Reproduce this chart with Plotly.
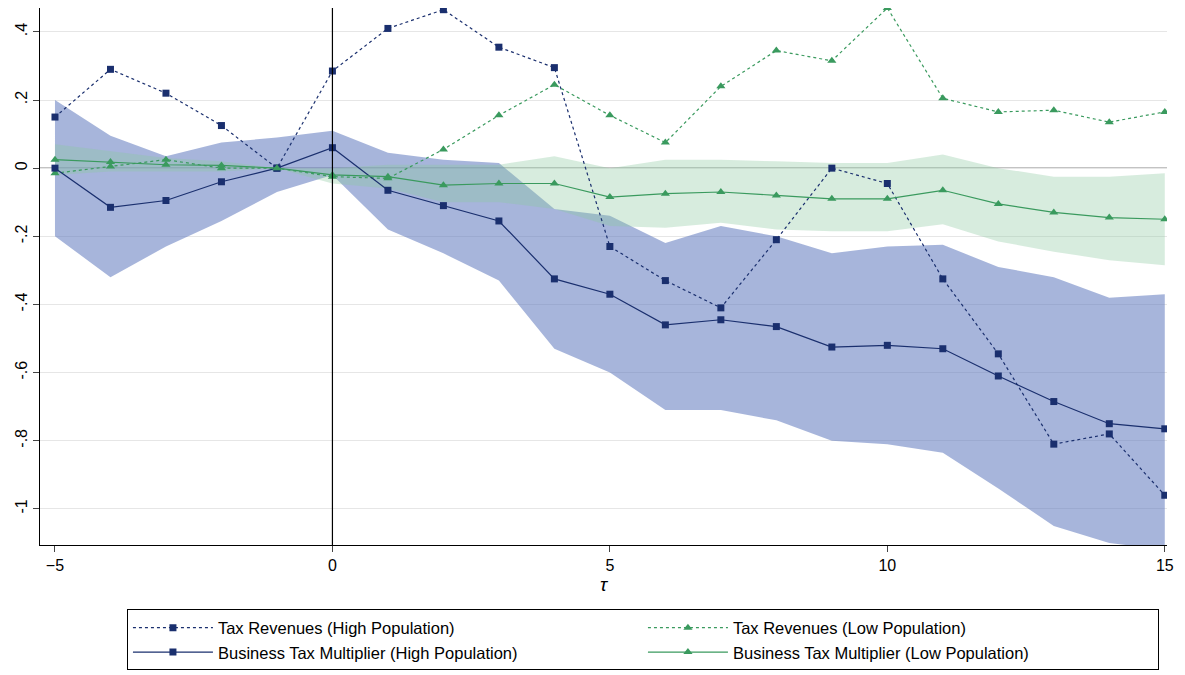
import plotly.graph_objects as go

tau = list(range(-5, 16))
tr_high = [0.15,0.29,0.22,0.125,0,0.285,0.41,0.465,0.355,0.295,-0.23,-0.33,-0.41,-0.21,0,-0.045,-0.325,-0.545,-0.81,-0.78,-0.96]
btm_high = [0,-0.115,-0.095,-0.04,0,0.06,-0.065,-0.11,-0.155,-0.325,-0.37,-0.46,-0.445,-0.465,-0.525,-0.52,-0.53,-0.61,-0.685,-0.75,-0.765]
high_up = [0.2,0.095,0.035,0.075,0.09,0.11,0.045,0.025,0.015,-0.12,-0.14,-0.22,-0.17,-0.2,-0.25,-0.23,-0.225,-0.29,-0.32,-0.38,-0.37]
high_lo = [-0.2,-0.32,-0.23,-0.155,-0.07,-0.02,-0.18,-0.25,-0.33,-0.53,-0.6,-0.71,-0.71,-0.74,-0.8,-0.81,-0.835,-0.94,-1.05,-1.1,-1.12]
tr_low = [-0.015,0.005,0.025,0.0,0,-0.025,-0.03,0.055,0.155,0.245,0.155,0.075,0.24,0.345,0.315,0.47,0.205,0.165,0.17,0.135,0.165]
btm_low = [0.025,0.018,0.01,0.008,0,-0.02,-0.025,-0.05,-0.045,-0.045,-0.085,-0.075,-0.07,-0.08,-0.09,-0.09,-0.065,-0.105,-0.13,-0.145,-0.15]
low_up = [0.07,0.05,0.03,0.02,0,0.0,0.01,0.01,0.01,0.035,0.0,0.025,0.025,0.02,0.015,0.015,0.04,0.0,-0.025,-0.025,-0.015]
low_lo = [-0.02,-0.01,-0.01,-0.01,0,-0.045,-0.06,-0.1,-0.1,-0.12,-0.17,-0.175,-0.16,-0.18,-0.185,-0.185,-0.165,-0.215,-0.245,-0.27,-0.285]

yticks = [0.4,0.2,0,-0.2,-0.4,-0.6,-0.8,-1]
ylabels = [".4",".2","0","-.2","-.4","-.6","-.8","-1"]

navy = "#1a2f6e"
green = "#3a9a5e"
fig = go.Figure()
fig.add_trace(go.Scatter(x=tau+tau[::-1], y=high_up+high_lo[::-1], fill="toself",
    fillcolor="rgba(95,120,190,0.55)", line=dict(width=0), showlegend=False, hoverinfo="skip"))
fig.add_trace(go.Scatter(x=tau+tau[::-1], y=low_up+low_lo[::-1], fill="toself",
    fillcolor="rgba(140,200,160,0.35)", line=dict(width=0), showlegend=False, hoverinfo="skip"))
fig.add_trace(go.Scatter(x=tau, y=tr_high, mode="lines+markers", name="Tax Revenues (High Population)",
    line=dict(color=navy, width=1.2, dash="dot"), marker=dict(symbol="square", size=7, color=navy)))
fig.add_trace(go.Scatter(x=tau, y=tr_low, mode="lines+markers", name="Tax Revenues (Low Population)",
    line=dict(color=green, width=1.2, dash="dot"), marker=dict(symbol="triangle-up", size=8, color=green)))
fig.add_trace(go.Scatter(x=tau, y=btm_high, mode="lines+markers", name="Business Tax Multiplier (High Population)",
    line=dict(color=navy, width=1.2), marker=dict(symbol="square", size=7, color=navy)))
fig.add_trace(go.Scatter(x=tau, y=btm_low, mode="lines+markers", name="Business Tax Multiplier (Low Population)",
    line=dict(color=green, width=1.2), marker=dict(symbol="triangle-up", size=8, color=green)))

fig.add_hline(y=0, line=dict(color="#888888", width=1.2), layer="below")
fig.add_vline(x=0, line=dict(color="black", width=1.2))

fig.update_layout(
    width=1185, height=675, plot_bgcolor="white", paper_bgcolor="white",
    margin=dict(l=32, r=26, t=0, b=138, autoexpand=False),
    font=dict(family="Liberation Sans", size=16, color="black"),
    xaxis=dict(range=[-5.27, 15.04], tickvals=[-5,0,5,10,15], showgrid=False, zeroline=False,
               showline=True, linecolor="black", ticks="outside", ticklen=6, automargin=False,
               title=dict(text="<i>τ</i>", standoff=2)),
    yaxis=dict(range=[-1.106, 0.47], tickvals=yticks, ticktext=ylabels, tickangle=-90,
               showgrid=True, gridcolor="#e6e6e6", zeroline=False, automargin=False,
               showline=True, linecolor="black", ticks="outside", ticklen=6),
    legend=dict(orientation="h", x=0.535, xanchor="center", y=-0.12, yanchor="top",
                bordercolor="black", borderwidth=1, entrywidth=420, itemwidth=80,
                font=dict(size=16.5), traceorder="normal"),
)
fig.write_html("out.html")
